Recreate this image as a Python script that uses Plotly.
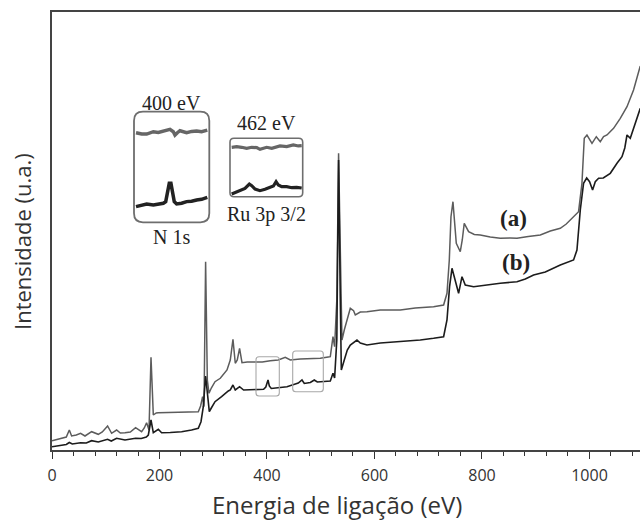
import plotly.graph_objects as go

# ---------------- main survey spectra ----------------
energy_a = [0, 17.9, 26.6, 32.2, 36.5, 45.2, 53.2, 61.4, 73.7, 86.1, 93.6, 103.4, 110.9, 120.2,
            127.1, 135.8, 145.7, 155.5, 166.7, 171.7, 176, 180.5, 184.2, 188.5, 194, 197.8, 220,
            248, 272.2, 276.5, 280.2, 282.8, 285.8, 289, 292.1, 296.4, 303.3, 313.1, 325.6, 331.7,
            336.7, 341, 344.7, 349, 353.5, 363.3, 375.1, 391.3, 406.1, 421, 434, 443.3, 461.9,
            480.5, 499.2, 514, 517.8, 522.8, 525.8, 529.9, 533.2, 536.4, 539.5, 543.8, 548.8, 555,
            561.1, 564.3, 573.6, 586, 610.8, 648, 675.9, 709.9, 728.6, 734.9, 739.2, 742.3, 746,
            749.4, 752.2, 759.6, 763.3, 767, 775.1, 785.7, 796.8, 815.4, 834, 852.7, 865.1, 886.1,
            908.5, 927.1, 945.7, 956.8, 970.4, 979.7, 986, 990.3, 995.3, 1000.2, 1004.7, 1012.7,
            1020.1, 1026.2, 1032.6, 1044.8, 1057.3, 1069.8, 1082, 1094.5]
intensity_a = [9.3, 11.7, 13, 20, 14, 15, 16.7, 14, 18.3, 15.7, 18, 24, 16.7, 20,
               17, 17.3, 18, 22.3, 18.3, 22, 27.3, 20, 92.7, 35, 37, 37.3, 37.5,
               38, 38.3, 44, 53.3, 43.3, 188.3, 70, 56.7, 62, 68.3, 71.7, 80, 90,
               110.7, 86.7, 90, 101.7, 87.3, 88, 88.3, 88, 89.3, 90, 92.7, 90, 91,
               91.2, 91.7, 93, 93.3, 113.3, 103.3, 150, 296.7, 200, 110, 120, 130, 141.7,
               139.3, 135, 138, 138.3, 140, 140, 142, 143.3, 145, 156.7, 190, 233.3, 248.3,
               225, 206.7, 198.3, 210, 226.7, 218.3, 215.5, 215, 213, 211.7, 212, 211.7, 213.5,
               215, 219, 221.7, 226, 233.3, 238.3, 266.7, 311.7, 315, 310.7, 306.7, 313.3,
               308.3, 313.3, 315, 321.7, 331.7, 343.3, 360, 384]

energy_b = [0, 15.4, 26.6, 32.2, 37.8, 53.2, 63.8, 73.7, 86.1, 103.4, 110.3, 120.2, 135.8, 155.5,
            166.1, 175.4, 179.2, 184.2, 186.6, 188.5, 197.8, 203.9, 220.1, 241.1, 259.7, 272.2,
            277.2, 281.5, 285.8, 289, 292.7, 296.4, 303.3, 315.5, 322.4, 328, 331.7, 336.7, 341,
            349, 356.5, 374.5, 393.7, 397.8, 401.9, 404.3, 408, 424.7, 437.2, 452.7, 458.2, 465.1,
            469.4, 480.6, 488, 493.6, 502.9, 517.8, 522.8, 525.8, 529.9, 533.2, 536.4, 538.3, 543.8,
            549.4, 555, 567.4, 573.6, 586, 610.8, 648, 685.2, 709.9, 728.6, 734.9, 739.7, 744.2,
            750.3, 756.5, 762.8, 768.9, 784.4, 806.1, 834, 865.1, 880.6, 896, 917.8, 945.7, 956.8,
            970.4, 976.7, 982.9, 989, 994.8, 1000.2, 1005.8, 1010.8, 1017, 1025.7, 1038.7, 1051.2,
            1060.5, 1065.7, 1069.8, 1075.9, 1085.2, 1094.5]
intensity_b = [3.3, 5, 5.5, 7.5, 6, 7.3, 7, 9.3, 8, 10.7, 9, 11.7, 10, 11.7,
               11.5, 13, 15, 30, 21, 17.3, 20.7, 17.3, 17.5, 18.3, 20, 21.7,
               28.3, 43.3, 74, 55, 38.3, 42, 48.3, 53.3, 57, 59, 60, 65, 60,
               63.3, 60, 60.5, 60.7, 63, 70, 64, 61.5, 62.5, 63.3, 66, 67, 70,
               66.5, 67.5, 70, 68, 68.5, 69, 76.7, 72, 110, 290, 150, 80, 90,
               100, 105, 110, 107, 105, 107, 108.3, 110, 111.7, 113.3, 130, 163.3, 181.7,
               170, 156.7, 173.3, 165, 163.3, 165, 166.7, 168.3, 171, 175, 178, 185, 187,
               190, 200, 240, 266.7, 272, 268.3, 260, 268.3, 271.7, 272, 276.7, 286.7,
               293.3, 302, 315, 311.7, 326.7, 341.7]

x_ticks = [0, 200, 400, 600, 800, 1000]

# ---------------- insets ----------------
inset1_energy_a = [385.0, 387.4, 389.5, 392.3, 394.4, 396.5, 399.3, 400.7, 401.4, 402.4, 403.5,
                   406.3, 408.4, 410.5, 412.6, 415.0]
inset1_a = [81.0, 79.8, 79.8, 81.9, 81.3, 82.5, 84.0, 81.9, 78.9, 81.0, 82.8, 81.0, 82.2, 82.5,
            81.9, 83.4]
inset1_energy_b = [385.0, 387.4, 389.5, 392.3, 394.4, 396.5, 397.5, 398.2, 399.0, 399.7, 400.4,
                   401.1, 402.1, 404.2, 406.3, 408.4, 410.5, 412.6, 415.0]
inset1_b = [14.2, 15.4, 16.6, 15.7, 16.3, 17.2, 18.7, 27.7, 35.2, 35.2, 28.6, 18.7, 16.6, 17.2,
            18.7, 19.0, 20.2, 20.8, 22.6]

inset2_energy_a = [445, 448.6, 452.1, 455.7, 459.3, 462.9, 465.2, 467.6, 470, 473.6, 477.1, 479.5,
                   484.3, 489, 492.6, 495]
inset2_a = [84.6, 85.7, 84.6, 82.9, 84.6, 84.0, 81.1, 83.4, 84.6, 82.9, 84.6, 86.9, 85.7, 88.6,
            86.9, 87.4]
inset2_energy_b = [445, 448.6, 452.1, 454.5, 457.6, 459.3, 461.7, 465.2, 468.8, 472.4, 474.8,
                   476.7, 478.3, 480.7, 484.3, 487.9, 491.4, 495]
inset2_b = [4.6, 8.6, 11.4, 14.3, 21.7, 18.9, 13.1, 10.3, 12.6, 15.4, 18.3, 25.7, 20.0, 17.1,
            17.1, 15.4, 16.0, 14.9]

# ---------------- geometry (pixels) ----------------
W, H = 640, 520
PL, PR, PT, PB = 52, 640, 12, 450          # plot area
ML, MR, MT, MB = PL, W - PR, PT, H - PB
PW, PH = PR - PL, PB - PT


def px(x):
    return (x - PL) / PW


def py(y):
    return (PB - y) / PH


def rounded_rect(x0, y0, x1, y1, r):
    rx, ry = r / PW, r / PH
    X0, X1 = px(x0), px(x1)
    Yt, Yb = py(y0), py(y1)
    return (f"M {X0 + rx},{Yt} L {X1 - rx},{Yt} Q {X1},{Yt} {X1},{Yt - ry} "
            f"L {X1},{Yb + ry} Q {X1},{Yb} {X1 - rx},{Yb} L {X0 + rx},{Yb} "
            f"Q {X0},{Yb} {X0},{Yb + ry} L {X0},{Yt - ry} Q {X0},{Yt} {X0 + rx},{Yt} Z")


col_a = "#5c5c5c"
col_b = "#1c1c1c"

fig = go.Figure()
fig.add_trace(go.Scatter(x=energy_a, y=intensity_a, mode="lines",
                         line=dict(color=col_a, width=1.5), showlegend=False))
fig.add_trace(go.Scatter(x=energy_b, y=intensity_b, mode="lines",
                         line=dict(color=col_b, width=1.6), showlegend=False))

fig.add_trace(go.Scatter(x=inset1_energy_a, y=inset1_a, mode="lines", xaxis="x2", yaxis="y2",
                         line=dict(color="#666666", width=3.5), showlegend=False))
fig.add_trace(go.Scatter(x=inset1_energy_b, y=inset1_b, mode="lines", xaxis="x2", yaxis="y2",
                         line=dict(color="#222222", width=3.5), showlegend=False))
fig.add_trace(go.Scatter(x=inset2_energy_a, y=inset2_a, mode="lines", xaxis="x3", yaxis="y3",
                         line=dict(color="#666666", width=3.2), showlegend=False))
fig.add_trace(go.Scatter(x=inset2_energy_b, y=inset2_b, mode="lines", xaxis="x3", yaxis="y3",
                         line=dict(color="#222222", width=3.2), showlegend=False))

r1 = (134, 111.7, 209.3, 222.3)
r2 = (230, 138.3, 302.7, 196.7)

shapes = [
    dict(type="path", xref="paper", yref="paper", path=rounded_rect(*r1, 9),
         line=dict(color="#6e6e6e", width=1.8)),
    dict(type="path", xref="paper", yref="paper", path=rounded_rect(*r2, 4),
         line=dict(color="#6e6e6e", width=1.6)),
    dict(type="path", xref="paper", yref="paper", path=rounded_rect(256, 356.7, 279.3, 396, 3),
         line=dict(color="#a8a8a8", width=1.1)),
    dict(type="path", xref="paper", yref="paper", path=rounded_rect(292.7, 351, 323.3, 391.7, 3),
         line=dict(color="#a8a8a8", width=1.1)),
]

serif = "Liberation Serif, Times New Roman, serif"
sans = "Open Sans, sans-serif"


def ann(text, x, y, size, family=serif, angle=0, color="#222222"):
    return dict(text=text, x=px(x), y=py(y), xref="paper", yref="paper", showarrow=False,
                xanchor="center", yanchor="middle", textangle=angle,
                font=dict(family=family, size=size, color=color))


annotations = [
    ann("400 eV", 171.7, 102.7, 20),
    ann("N 1s", 171.7, 237, 20),
    ann("462 eV", 266.7, 123.3, 20),
    ann("Ru 3p 3/2", 266.7, 214, 20),
    ann("<b>(a)</b>", 513, 218.5, 23),
    ann("<b>(b)</b>", 516, 262, 23),
    ann("Energia de ligação (eV)", 337, 504, 24, family=sans, color="#333333"),
    ann("Intensidade (u.a.)", 22, 242, 22, family=sans, angle=-90, color="#333333"),
]

fig.update_layout(
    width=W, height=H,
    margin=dict(l=ML, r=MR, t=MT, b=MB, pad=0),
    paper_bgcolor="white", plot_bgcolor="white",
    xaxis=dict(range=[0, 1094], tickvals=x_ticks, ticks="outside", ticklen=7, tickwidth=1.3,
               tickcolor="#333333", showline=True, linecolor="#444444", linewidth=1.5,
               mirror=True, showgrid=False, zeroline=False, ticklabelstandoff=3,
               tickfont=dict(family=sans, size=16, color="#333333"),
               minor=dict(dtick=40, ticks="outside", ticklen=4, tickwidth=1.1,
                          tickcolor="#333333")),
    yaxis=dict(range=[0, 438], showticklabels=False, ticks="", showline=True,
               linecolor="#444444", linewidth=1.5, showgrid=False, zeroline=False),
    xaxis2=dict(domain=[px(r1[0]), px(r1[2])], range=[384.16, 415.84], anchor="y2",
                visible=False),
    yaxis2=dict(domain=[py(r1[3]), py(r1[1])], range=[0, 100], anchor="x2", visible=False),
    xaxis3=dict(domain=[px(r2[0]), px(r2[2])], range=[443.8, 495.7], anchor="y3",
                visible=False),
    yaxis3=dict(domain=[py(r2[3]), py(r2[1])], range=[0, 100], anchor="x3", visible=False),
    shapes=shapes,
    annotations=annotations,
)

# remove the browser's default 8px page margin so the 640x520 figure fills the window exactly
fig.write_html("out.html", config={"displayModeBar": False},
               post_script="document.body.style.margin='0';document.body.style.overflow='hidden';")
